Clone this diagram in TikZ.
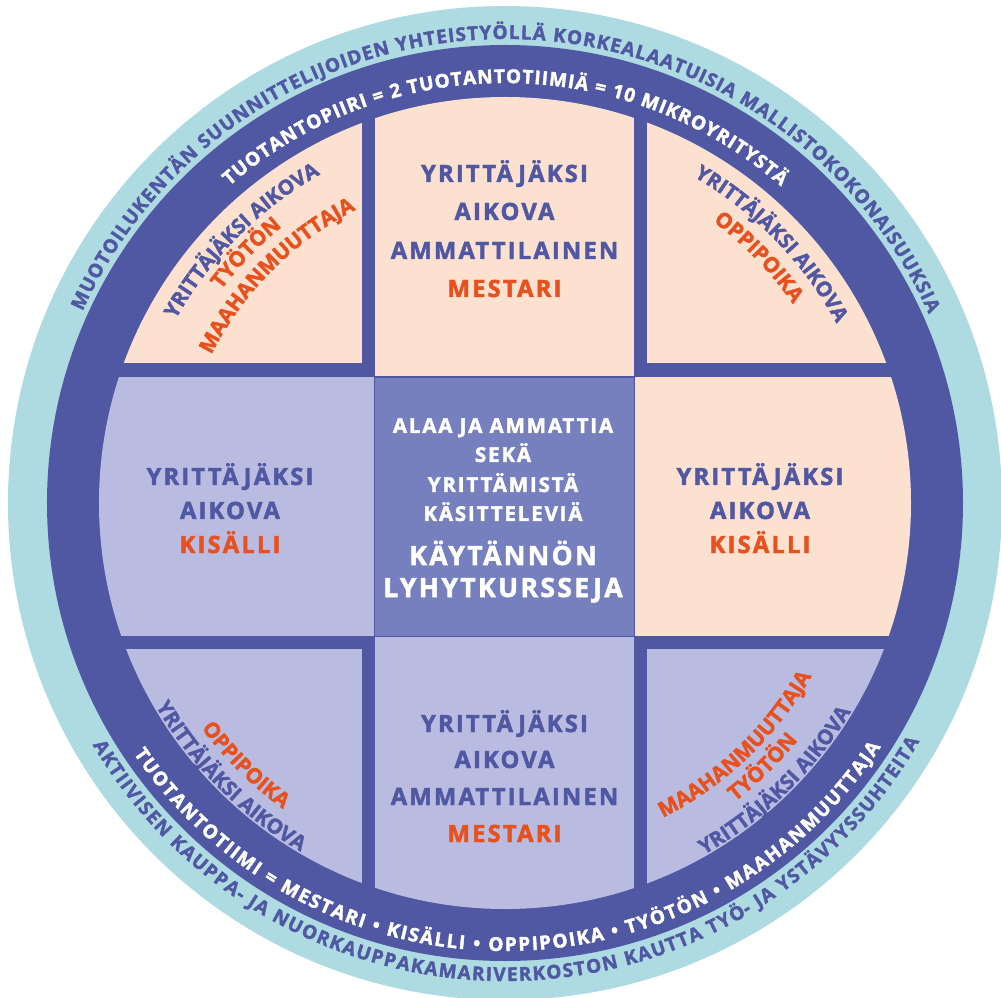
\documentclass[tikz,border=0pt]{standalone}
\usepackage{fontspec}
\setmainfont{Open Sans}[BoldFeatures={FakeBold=2}]
\newfontfamily\trk{Open Sans}[LetterSpace=9,BoldFeatures={FakeBold=2}]
\usetikzlibrary{decorations.text}
\definecolor{ringteal}{HTML}{ADDBE1}
\definecolor{ringblue}{HTML}{5057A3}
\definecolor{peach}{HTML}{FCE1D0}
\definecolor{lav}{HTML}{B9BCE0}
\definecolor{midblue}{HTML}{7680BF}
\definecolor{orng}{HTML}{E8501E}
% text fitted between two angles
\newcommand\arctext[6]{%
  \path[decorate,decoration={text along path,text color=#1,text align={fit to path},
    text={|\bfseries\fontsize{#2}{#2}\selectfont|#6}}]
    (#4:#3) arc[start angle=#4,end angle=#5,radius=#3];}
% text centred on an angle: #4 centre angle, #5 = +1 clockwise (tops out) / -1 anticlockwise (tops in)
\newcommand\arcctext[6]{%
  \path[decorate,decoration={text along path,text color=#1,text align=center,
    text={|\bfseries\fontsize{#2}{#2}\selectfont|#6}}]
    ({#4+#5*40}:#3) arc[start angle={#4+#5*40},end angle={#4-#5*40},radius=#3];}
\tikzset{
  midtxt/.style={font=\trk\bfseries\fontsize{23.8}{24}\selectfont,text=ringblue,anchor=base,inner sep=0pt},
  midorg/.style={midtxt,text=orng},
  ctrsmall/.style={font=\trk\bfseries\fontsize{20.5}{21}\selectfont,text=white,anchor=base,inner sep=0pt},
  ctrbig/.style={font=\trk\bfseries\fontsize{26.5}{28}\selectfont,text=white,anchor=base,inner sep=0pt},
}
\begin{document}
\begin{tikzpicture}[x=1pt,y=1pt]
\useasboundingbox (-505,-495) rectangle (496,503);
% rings
\fill[ringteal] (0,0) circle[radius=497];
\fill[ringblue] (0,0) circle[radius=458];
% cells
\begin{scope}
\clip (0,0) circle[radius=406];
\fill[peach] (-430,140) rectangle (-143,430);
\fill[peach] (-130,126) rectangle (129,430);
\fill[peach] (142,140) rectangle (430,430);
\fill[lav] (-430,126) rectangle (-131,-133);
\fill[peach] (130,126) rectangle (430,-133);
\fill[lav] (-430,-146) rectangle (-143,-430);
\fill[lav] (-130,-134) rectangle (129,-430);
\fill[lav] (142,-146) rectangle (430,-430);
\end{scope}
\filldraw[fill=midblue,draw=ringblue,line width=1.5pt] (-130.5,126) rectangle (129.5,-133.5);
% ring texts
\arctext{ringblue}{19}{464}{155.6}{24.1}{MUOTOILUKENTÄN SUUNNITTELIJOIDEN YHTEISTYÖLLÄ KORKEALAATUISIA MALLISTOKOKONAISUUKSIA}
\arctext{white}{19}{420}{131}{49}{TUOTANTOPIIRI = 2 TUOTANTOTIIMIÄ = 10 MIKROYRITYSTÄ}
\arctext{white}{19}{448}{214}{327}{TUOTANTOTIIMI = MESTARI • KISÄLLI • OPPIPOIKA • TYÖTÖN • MAAHANMUUTTAJA}
\arctext{ringblue}{19}{478}{210.4}{330.1}{AKTIIVISEN KAUPPA- JA NUORKAUPPAKAMARIVERKOSTON KAUTTA TYÖ- JA YSTÄVYYSSUHTEITA}
% corner texts
\arcctext{ringblue}{20.5}{377}{135.1}{1}{YRITTÄJÄKSI AIKOVA}
\arcctext{orng}{21}{355}{136}{1}{TYÖTÖN}
\arcctext{orng}{21}{329}{135.1}{1}{MAAHANMUUTTAJA}
\arcctext{ringblue}{20.5}{377}{44.2}{1}{YRITTÄJÄKSI AIKOVA}
\arcctext{orng}{21}{350}{44.1}{1}{OPPIPOIKA}
\arcctext{ringblue}{20.5}{404}{224.9}{-1}{YRITTÄJÄKSI AIKOVA}
\arcctext{orng}{21}{378}{225.3}{-1}{OPPIPOIKA}
\arcctext{ringblue}{20.5}{404}{314.2}{-1}{YRITTÄJÄKSI AIKOVA}
\arcctext{orng}{21}{377}{314.3}{-1}{TYÖTÖN}
\arcctext{orng}{21}{352}{313.6}{-1}{MAAHANMUUTTAJA}
% top middle
\node[midtxt] (tm1) at (-0.5,321) {YRITTÄJÄKSI};
\node[midtxt] (tm2) at (-0.5,283) {AIKOVA};
\node[midtxt] (tm3) at (-0.5,244) {AMMATTILAINEN};
\node[midorg] (tm4) at (-0.5,206) {MESTARI};
% bottom middle
\node[midtxt] (bm1) at (-0.5,-229) {YRITTÄJÄKSI};
\node[midtxt] (bm2) at (-0.5,-265) {AIKOVA};
\node[midtxt] (bm3) at (-0.5,-302) {AMMATTILAINEN};
\node[midorg] (bm4) at (-0.5,-339) {MESTARI};
% middle left
\node[midtxt] (ml1) at (-275,18) {YRITTÄJÄKSI};
\node[midtxt] (ml2) at (-275,-16) {AIKOVA};
\node[midorg] (ml3) at (-275,-50) {KISÄLLI};
% middle right
\node[midtxt] (mr1) at (255,18) {YRITTÄJÄKSI};
\node[midtxt] (mr2) at (255,-16) {AIKOVA};
\node[midorg] (mr3) at (255,-50) {KISÄLLI};
% centre
\node[ctrsmall] (c1) at (-2,70) {ALAA JA AMMATTIA};
\node[ctrsmall] (c2) at (-2,41) {SEKÄ};
\node[ctrsmall] (c3) at (-2,11) {YRITTÄMISTÄ};
\node[ctrsmall] (c4) at (-2,-18) {KÄSITTELEVIÄ};
\node[ctrbig] (c5) at (-2,-62) {KÄYTÄNNÖN};
\node[ctrbig] (c6) at (-2,-94) {LYHYTKURSSEJA};
\end{tikzpicture}
\end{document}
